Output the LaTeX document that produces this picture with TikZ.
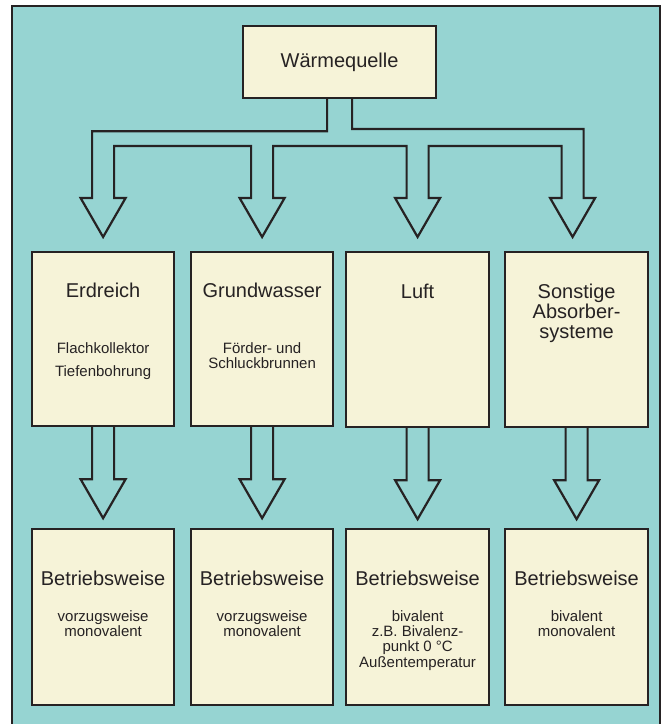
\documentclass[tikz,border=0pt]{standalone}
\usepackage{fontspec}
\setmainfont{Liberation Sans}
\usetikzlibrary{calc}

\definecolor{wasser}{HTML}{96D4D2}
\definecolor{creme}{HTML}{F6F3D8}
\definecolor{strich}{HTML}{262223}

% lines of a block, baseline = first line
\newcommand\zeilen[1]{\begin{tabular}[t]{@{}c@{}}#1\end{tabular}}

\tikzset{
  kasten/.style={draw=strich, fill=creme, line width=2.2pt, inner sep=0pt,
    minimum width=142pt, minimum height=174pt, anchor=north west},
  titel/.style={font=\fontsize{20}{20}\selectfont, text=strich, anchor=base, inner sep=0pt},
  unter/.style={font=\fontsize{15}{15.4}\selectfont, text=strich, anchor=base, inner sep=0pt},
  pfeil/.style={draw=strich, line width=2.2pt, line join=miter},
  spitze/.style={insert path={-- ++(-11.5,0) -- ++(22.5,39) -- ++(22.5,-39) -- ++(-11.5,0)}}
}

\begin{document}
\begin{tikzpicture}[x=1pt,y=-1pt]
	\clip (0,0) rectangle (666,724);
	\useasboundingbox (0,0) rectangle (666,724);
	\draw[draw=strich, line width=2pt, fill=wasser] (12,6) rectangle (660,740);

	\node[kasten, minimum width=193pt, minimum height=72pt] (quelle) at (242,25) {};
	\node[font=\fontsize{20}{20}\selectfont, text=strich] at (quelle.center) {Wärmequelle};

	% Quellen
	\node[kasten] (erd) at (31,251) {};
	\node[kasten] (gw) at (190,251) {};
	\node[kasten, minimum width=143pt, minimum height=175pt] (luft) at (345,251) {};
	\node[kasten, minimum width=143pt, minimum height=175pt] (sonst) at (504,251) {};

	\node[titel] at ([yshift=-46pt]erd.north) {Erdreich};
	\node[unter] at ([yshift=-102pt]erd.north) {\zeilen{Flachkollektor\\[7.6pt]Tiefenbohrung}};
	\node[titel] at ([yshift=-46pt]gw.north) {Grundwasser};
	\node[unter] at ([yshift=-102pt]gw.north) {\zeilen{Förder- und\\Schluckbrunnen}};
	\node[titel] at ([yshift=-47pt]luft.north) {Luft};
	\node[titel] at ([yshift=-47pt]sonst.north) {\zeilen{Sonstige\\Absorber-\\systeme}};

	% Betriebsweise
	\node[kasten, minimum height=176pt] (erdbw) at (31,528) {};
	\node[kasten, minimum height=176pt] (gwbw) at (190,528) {};
	\node[kasten, minimum width=143pt, minimum height=176pt] (luftbw) at (345,528) {};
	\node[kasten, minimum width=143pt, minimum height=176pt] (sonstbw) at (504,528) {};

	\foreach \k in {erdbw, gwbw, luftbw, sonstbw}
		\node[titel] at ([yshift=-57.5pt]\k.north) {Betriebsweise};
	\node[unter] at ([yshift=-93pt]erdbw.north) {\zeilen{vorzugsweise\\monovalent}};
	\node[unter] at ([yshift=-93pt]gwbw.north) {\zeilen{vorzugsweise\\monovalent}};
	\node[unter] at ([yshift=-93pt]luftbw.north) {\zeilen{bivalent\\z.B. Bivalenz-\\punkt 0 °C\\Außentemperatur}};
	\node[unter] at ([yshift=-93pt]sonstbw.north) {\zeilen{bivalent\\monovalent}};

	% Verteilung
	\draw[pfeil] ([xshift=-12.5pt]quelle.south) -- ++(0,32)
		-| ([xshift=-11pt,yshift=53pt]erd.north) [spitze] -- ++(0,-52)
		-| ([xshift=-11pt,yshift=53pt]gw.north) [spitze] -- ++(0,-52)
		-| ([xshift=-11pt,yshift=53pt]luft.north) [spitze] -- ++(0,-52)
		-| ([xshift=-15pt,yshift=53pt]sonst.north) [spitze] -- ++(0,-69)
		-| ([xshift=12.5pt]quelle.south);

	\foreach \q in {erd, gw, luft, sonst}
		\draw[pfeil] ([xshift=-11pt]\q.south) -- ++(0,52) [spitze] -- ([xshift=11pt]\q.south);
\end{tikzpicture}
\end{document}
